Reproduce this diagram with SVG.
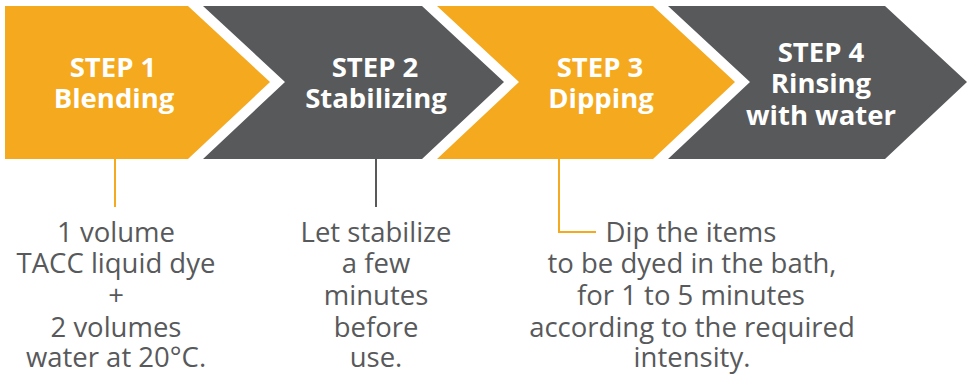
<svg xmlns="http://www.w3.org/2000/svg" width="971" height="377" viewBox="0 0 971 377">
<style>
.o{fill:#F5A91E}
.g{fill:#58595B}
.h{font-family:"Open Sans","Liberation Sans",sans-serif;font-weight:bold;font-size:27.5px;fill:#fff;text-anchor:middle}
.d{font-family:"Open Sans","Liberation Sans",sans-serif;font-size:27.5px;fill:#58595B;text-anchor:middle}
.lo{stroke:#F5A91E;stroke-width:2;fill:none}
.lg{stroke:#58595B;stroke-width:2;fill:none}
</style>
<rect width="971" height="377" fill="#fff"/>
<g id="step1">
<polygon class="o" points="5,6 188,6 270,82 188,159 5,159"/>
<text class="h" x="113" y="77">STEP 1</text>
<text class="h" x="114" y="108">Blending</text>
</g>
<g id="step2">
<polygon class="g" points="203,6 422,6 504,82 422,159 203,159 285,82"/>
<text class="h" x="375" y="77">STEP 2</text>
<text class="h" x="376" y="108">Stabilizing</text>
</g>
<g id="step3">
<polygon class="o" points="437,6 653,6 735,82 653,159 437,159 519,82"/>
<text class="h" x="600" y="77">STEP 3</text>
<text class="h" x="601" y="108">Dipping</text>
</g>
<g id="step4">
<polygon class="g" points="668,6 885,6 967,82 885,159 668,159 750,82"/>
<text class="h" x="821" y="62">STEP 4</text>
<text class="h" x="821" y="93">Rinsing</text>
<text class="h" x="821" y="125">with water</text>
</g>
<g id="connectors">
<path class="lo" d="M115,159 V207"/>
<path class="lg" d="M376,159 V207"/>
<path class="lo" d="M559,159 V232 H596"/>
</g>
<g id="desc1">
<text class="d" x="116" y="242">1 volume</text>
<text class="d" x="116" y="273">TACC liquid dye</text>
<text class="d" x="116" y="305">+</text>
<text class="d" x="116" y="337">2 volumes</text>
<text class="d" x="116" y="367">water at 20°C.</text>
</g>
<g id="desc2">
<text class="d" x="376" y="242">Let stabilize</text>
<text class="d" x="376" y="273">a few</text>
<text class="d" x="376" y="305">minutes</text>
<text class="d" x="376" y="337">before</text>
<text class="d" x="376" y="367">use.</text>
</g>
<g id="desc3">
<text class="d" x="691" y="242">Dip the items</text>
<text class="d" x="692" y="273">to be dyed in the bath,</text>
<text class="d" x="691" y="305">for 1 to 5 minutes</text>
<text class="d" x="692" y="337">according to the required</text>
<text class="d" x="692" y="367">intensity.</text>
</g>
</svg>
